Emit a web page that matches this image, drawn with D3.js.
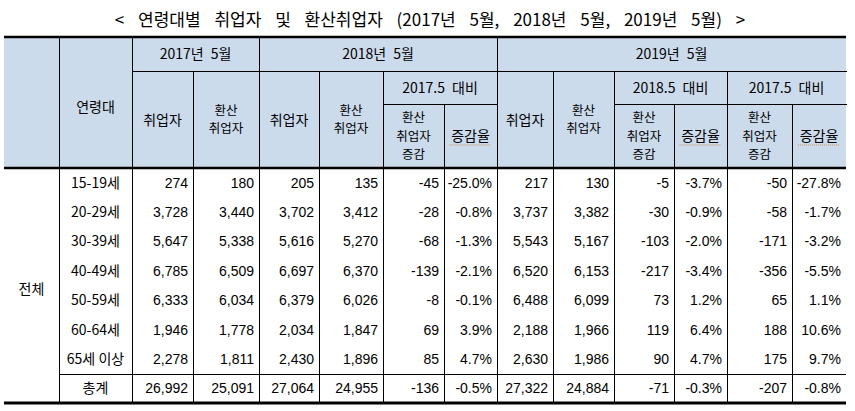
<!DOCTYPE html>
<html><head><meta charset="utf-8">
<script src="https://cdn.jsdelivr.net/npm/d3@7"></script>
<style>
html,body{margin:0;padding:0;background:#fff;}
svg{display:block;}
text{font-family:"Noto Sans CJK KR","Liberation Sans",sans-serif;fill:#000;}
.num{font-family:"Liberation Sans","Noto Sans CJK KR",sans-serif;}
</style>
</head><body>
<script>
// ---- data ----
const title = "< 연령대별 취업자 및 환산취업자 (2017년 5월, 2018년 5월, 2019년 5월) >";
const groupLabel = "전체";
const ageGroups = ["15-19세","20-29세","30-39세","40-49세","50-59세","60-64세","65세 이상","총계"];
const emp2017   = [274,3728,5647,6785,6333,1946,2278,26992];
const conv2017  = [180,3440,5338,6509,6034,1778,1811,25091];
const emp2018   = [205,3702,5616,6697,6379,2034,2430,27064];
const conv2018  = [135,3412,5270,6370,6026,1847,1896,24955];
const diff18v17 = [-45,-28,-68,-139,-8,69,85,-136];
const rate18v17 = [-25.0,-0.8,-1.3,-2.1,-0.1,3.9,4.7,-0.5];
const emp2019   = [217,3737,5543,6520,6488,2188,2630,27322];
const conv2019  = [130,3382,5167,6153,6099,1966,1986,24884];
const diff19v18 = [-5,-30,-103,-217,73,119,90,-71];
const rate19v18 = [-3.7,-0.9,-2.0,-3.4,1.2,6.4,4.7,-0.3];
const diff19v17 = [-50,-58,-171,-356,65,188,175,-207];
const rate19v17 = [-27.8,-1.7,-3.2,-5.5,1.1,10.6,9.7,-0.8];

const columnSeries = [emp2017,conv2017,emp2018,conv2018,diff18v17,rate18v17,emp2019,conv2019,diff19v18,rate19v18,diff19v17,rate19v17];
const columnIsRate = [false,false,false,false,false,true,false,false,false,true,false,true];

// ---- layout ----
const W = 855, H = 411;
const colEdges = [4,59,132,193,259,319,383,444,497,553,614,674,727,792,846];
const headerTop = 37, hRow1 = 71, hRow2 = 104, headerBottom = 168, tableBottom = 403;
const headerBg = "#ccdbec";

const svg = d3.select("body").append("svg").attr("width",W).attr("height",H);

// title
svg.append("text").attr("x",430).attr("y",26).attr("text-anchor","middle")
  .style("font-size","17px").style("word-spacing","10px").text(title);

// header background
svg.append("rect").attr("x",colEdges[0]).attr("y",headerTop)
  .attr("width",colEdges[14]-colEdges[0]).attr("height",headerBottom-headerTop).attr("fill",headerBg);

// row scale
const y = d3.scaleBand().domain(d3.range(ageGroups.length)).range([headerBottom, tableBottom]);

// header cells: [c0, c1, rowTop, rowBottom, lines]
const headerCells = [
  [0,1,headerTop,headerBottom,[]],
  [1,2,headerTop,headerBottom,["연령대"]],
  [2,4,headerTop,hRow1,["2017년 5월"]],
  [2,3,hRow1,headerBottom,["취업자"]],
  [3,4,hRow1,headerBottom,["환산","취업자"]],
  [4,8,headerTop,hRow1,["2018년 5월"]],
  [4,5,hRow1,headerBottom,["취업자"]],
  [5,6,hRow1,headerBottom,["환산","취업자"]],
  [6,8,hRow1,hRow2,["2017.5 대비"]],
  [6,7,hRow2,headerBottom,["환산","취업자","증감"]],
  [7,8,hRow2,headerBottom,["증감율"],true],
  [8,14,headerTop,hRow1,["2019년 5월"]],
  [8,9,hRow1,headerBottom,["취업자"]],
  [9,10,hRow1,headerBottom,["환산","취업자"]],
  [10,12,hRow1,hRow2,["2018.5 대비"]],
  [10,11,hRow2,headerBottom,["환산","취업자","증감"]],
  [11,12,hRow2,headerBottom,["증감율"],true],
  [12,14,hRow1,hRow2,["2017.5 대비"]],
  [12,13,hRow2,headerBottom,["환산","취업자","증감"]],
  [13,14,hRow2,headerBottom,["증감율"],true]
];

const lineG = svg.append("g").attr("stroke","#000").attr("stroke-width",1).attr("shape-rendering","crispEdges");
const hdr = svg.append("g");

headerCells.forEach(([c0,c1,t,b,lines,squiggle])=>{
  const x0 = colEdges[c0], x1 = colEdges[c1];
  const cx = (x0+x1)/2;
  let cy = (t+b)/2;
  if (lines[0]==="연령대") cy += 4;
  const multi = lines.length > 1;
  const lh = 18.3;
  if (lines.length) {
    const tx = hdr.append("text").attr("text-anchor","middle").style("font-size", multi ? "12.5px" : "14px")
      .style("word-spacing","4px");
    lines.forEach((s,i)=>{
      tx.append("tspan").attr("x",cx).attr("y",cy + (i-(lines.length-1)/2)*lh).attr("dy","0.36em").text(s);
    });
  }
  if (squiggle) {
    hdr.append("line").attr("x1",cx-21).attr("x2",cx+21).attr("y1",cy+9).attr("y2",cy+9)
      .attr("stroke","#d08a50").attr("stroke-width",1).attr("stroke-dasharray","1,1");
  }
  if (c1 < 14) lineG.append("line").attr("x1",x1+0.5).attr("x2",x1+0.5).attr("y1",t).attr("y2",b);
  if (b < headerBottom) lineG.append("line").attr("x1",x0).attr("x2",x1+1).attr("y1",b+0.5).attr("y2",b+0.5);
});

// body vertical lines
colEdges.slice(1,14).forEach(x=>{
  lineG.append("line").attr("x1",x+0.5).attr("x2",x+0.5).attr("y1",headerBottom).attr("y2",tableBottom);
});
// line above total
const totalIdx = ageGroups.length-1;
lineG.append("line").attr("x1",colEdges[1]).attr("x2",colEdges[14]).attr("y1",y(totalIdx)+0.5).attr("y2",y(totalIdx)+0.5);

// thick rules
[[headerTop,2.5],[headerBottom,2.5],[tableBottom,3]].forEach(([yy,w])=>{
  svg.append("line").attr("x1",colEdges[0]).attr("x2",colEdges[14]).attr("y1",yy).attr("y2",yy)
    .attr("stroke","#000").attr("stroke-width",w);
});

// group label
svg.append("text").attr("x",(colEdges[0]+colEdges[1])/2).attr("y",289).attr("dy","0.36em")
  .attr("text-anchor","middle").style("font-size","14px").text(groupLabel);

// age labels
svg.append("g").selectAll("text").data(ageGroups).join("text")
  .attr("x",(colEdges[1]+colEdges[2])/2).attr("y",(d,i)=>y(i)+y.bandwidth()/2).attr("dy","0.36em")
  .attr("text-anchor","middle").style("font-size","14px").text(d=>d);

// values
const fmtN = v => d3.format(",")(v).replace("\u2212","-");
const fmtR = v => d3.format(".1f")(v).replace("\u2212","-") + "%";
columnSeries.forEach((series,ci)=>{
  const xr = colEdges[ci+3] - 5;
  svg.append("g").selectAll("text").data(series).join("text")
    .attr("class","num")
    .attr("x",xr).attr("y",(d,i)=>y(i)+y.bandwidth()/2).attr("dy","0.36em")
    .attr("text-anchor","end").style("font-size","14px")
    .text(d=> columnIsRate[ci] ? fmtR(d) : fmtN(d));
});
</script>
</body></html>
